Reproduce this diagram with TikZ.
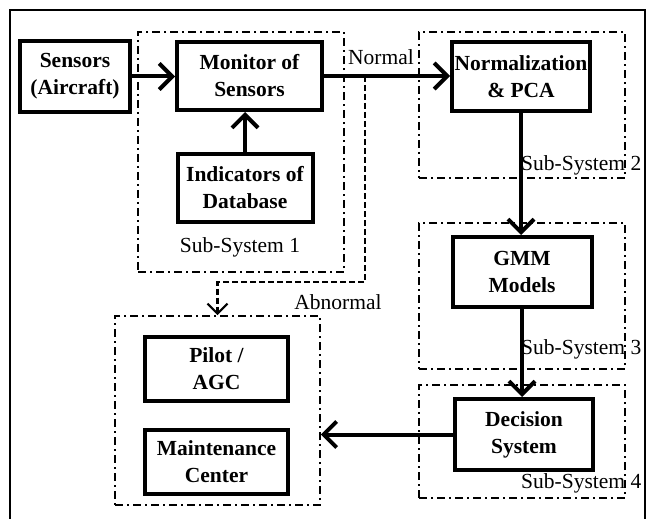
\documentclass[tikz,border=0pt]{standalone}
\usepackage{fontspec}
\setmainfont{Liberation Serif}
\usetikzlibrary{arrows.meta}
\begin{document}
\begin{tikzpicture}[x=1pt,y=-1pt,
  every node/.style={font=\fontsize{21.5}{27}\selectfont},
  blk/.style={draw, line width=4pt, align=center, font=\fontsize{21.5}{27}\selectfont\bfseries, inner sep=0pt},
  subsys/.style={draw, line width=1.6pt, dash pattern=on 8pt off 4pt on 2pt off 4pt, inner sep=0pt},
  lbl/.style={inner sep=0pt},
  thickarrow/.style={line width=4pt, -{Straight Barb[length=13pt 0, width=26pt 0]}},
  dasharrow/.style={line width=2.2pt, dash pattern=on 6pt off 3pt, -{Straight Barb[length=10pt 0, width=20pt 0]}}
]
\useasboundingbox (0,0) rectangle (654,519);
\draw[line width=1.5pt] (10,519) -- (10,10) -- (645,10) -- (645,519);

% sub-system frames
\node[subsys, minimum width=206pt, minimum height=240pt] (s1) at (241,152) {};
\node[subsys, minimum width=206pt, minimum height=146pt] (s2) at (522,105) {};
\node[subsys, minimum width=206pt, minimum height=146pt] (s3) at (522,296) {};
\node[subsys, minimum width=206pt, minimum height=113pt] (s4) at (522,441.5) {};
\node[subsys, minimum width=205pt, minimum height=189pt] (out) at (217.5,410.5) {};

% blocks
\node[blk, minimum width=110pt, minimum height=71pt] (sens) at (75,76.5) {Sensors\\(Aircraft)};
\node[blk, minimum width=145pt, minimum height=68pt] (mon) at (249.5,76) {Monitor of\\Sensors};
\node[blk, minimum width=135pt, minimum height=68pt] (ind) at (245,188) {Indicators of\\Database};
\node[blk, minimum width=138pt, minimum height=69pt] (norm) at (521,76.5) {Normalization\\\& PCA};
\node[blk, minimum width=139pt, minimum height=70pt] (gmm) at (522,272) {GMM\\Models};
\node[blk, minimum width=138pt, minimum height=71pt] (dec) at (524,434.5) {Decision\\System};
\node[blk, minimum width=143pt, minimum height=64pt] (pil) at (216.5,369) {Pilot /\\AGC};
\node[blk, minimum width=143pt, minimum height=64pt] (mnt) at (216.5,462) {Maintenance\\Center};

% labels
\node[lbl] (l1) at (240,247) {Sub-System 1};
\node[lbl, anchor=west] (l2) at (521,165) {Sub-System 2};
\node[lbl, anchor=west] (l3) at (521,349) {Sub-System 3};
\node[lbl, anchor=west] (l4) at (521,483) {Sub-System 4};
\node[lbl] (ln) at (381,57) {Normal};
\node[lbl] (la) at (338,302) {Abnormal};

% connectors
\draw[thickarrow] (sens.east) -- (sens.east -| mon.west);
\draw[thickarrow] (ind.north) -- (ind.north |- mon.south);
\draw[thickarrow] (mon.east) -- (mon.east -| norm.west);
\draw[thickarrow] (norm.south) -- (norm.south |- gmm.north);
\draw[thickarrow] (gmm.south) -- (gmm.south |- dec.north);
\draw[thickarrow] (dec.west) -- (dec.west -| out.east);

\coordinate (fork) at (365,76);
\coordinate (bend) at (365,282);
\draw[dasharrow] (fork) -- (bend) -| (out.north);
\end{tikzpicture}
\end{document}
